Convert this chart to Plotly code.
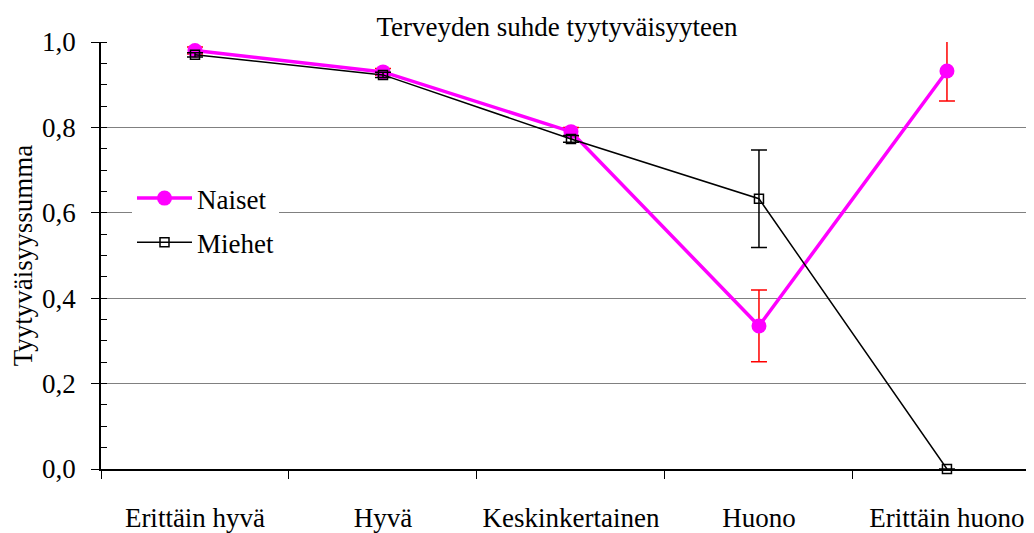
import plotly.graph_objects as go

categories = ["Erittäin hyvä", "Hyvä", "Keskinkertainen", "Huono", "Erittäin huono"]
naiset = [0.98, 0.93, 0.79, 0.335, 0.932]
naiset_err = [0.008, 0.008, 0.01, 0.084, 0.07]
miehet = [0.97, 0.923, 0.773, 0.633, 0.0]
miehet_err = [0.005, 0.006, 0.008, 0.114, 0.0]
y_ticks = [0.0, 0.2, 0.4, 0.6, 0.8, 1.0]

FONT = "Times New Roman, Liberation Serif, serif"
FS = 27
W, H = 1026, 525  # page body has an 8px margin

fig = go.Figure()
fig.add_trace(go.Scatter(
    x=categories, y=naiset, name="Naiset", mode="lines+markers",
    line=dict(color="#FF00FF", width=3.5),
    marker=dict(symbol="circle", size=15, color="#FF00FF"),
    error_y=dict(type="data", array=naiset_err, color="#FF0000", thickness=1.5, width=8),
    cliponaxis=False, legendgroup="n",
))
fig.add_trace(go.Scatter(
    x=categories, y=miehet, name="Miehet", mode="lines+markers",
    line=dict(color="black", width=1.5),
    marker=dict(symbol="square-open", size=9, color="black", line=dict(width=1.5, color="black")),
    error_y=dict(type="data", array=miehet_err, color="black", thickness=1.5, width=8),
    cliponaxis=False, legendgroup="m",
))

fig.update_layout(
    width=W, height=H,
    margin=dict(l=93, r=0, t=34, b=61),
    paper_bgcolor="white", plot_bgcolor="white",
    separators=", ",
    font=dict(family=FONT, size=FS, color="black"),
    title=dict(text="Terveyden suhde tyytyväisyyteen", x=(557 - 8) / W, xanchor="center",
               xref="container",
               y=1 - 19 / H, yanchor="middle", font=dict(family=FONT, size=FS, color="black")),
    showlegend=True,
    legend=dict(x=(132 - 101) / 933, xanchor="left", y=(472 - 175) / 430, yanchor="top",
                bgcolor="white",
                font=dict(family=FONT, size=FS, color="black"), tracegroupgap=6,
                itemwidth=55),
    xaxis=dict(
        type="category", range=[-0.5, 4.463], tickson="boundaries",
        showline=True, linecolor="black", linewidth=1.5,
        ticks="outside", ticklen=8, tickcolor="black", tickwidth=1,
        showgrid=False, ticklabelstandoff=24, zeroline=False,
        tickfont=dict(family=FONT, size=FS, color="black"),
    ),
    yaxis=dict(
        range=[0, 1], tickvals=y_ticks, tickformat=".1f",
        showline=True, linecolor="black", linewidth=1.5,
        ticks="outside", ticklen=8, tickcolor="black", tickwidth=1,
        showgrid=True, gridcolor="#808080", gridwidth=1, zeroline=False,
        minor=dict(dtick=0.05, ticks="inside", ticklen=6, tickcolor="black", showgrid=False),
        ticklabelstandoff=10,
        tickfont=dict(family=FONT, size=FS, color="black"),
        title=dict(text="Tyytyväisyyssumma", standoff=14, font=dict(family=FONT, size=FS, color="black")),
    ),
)

fig.write_html("out.html")
